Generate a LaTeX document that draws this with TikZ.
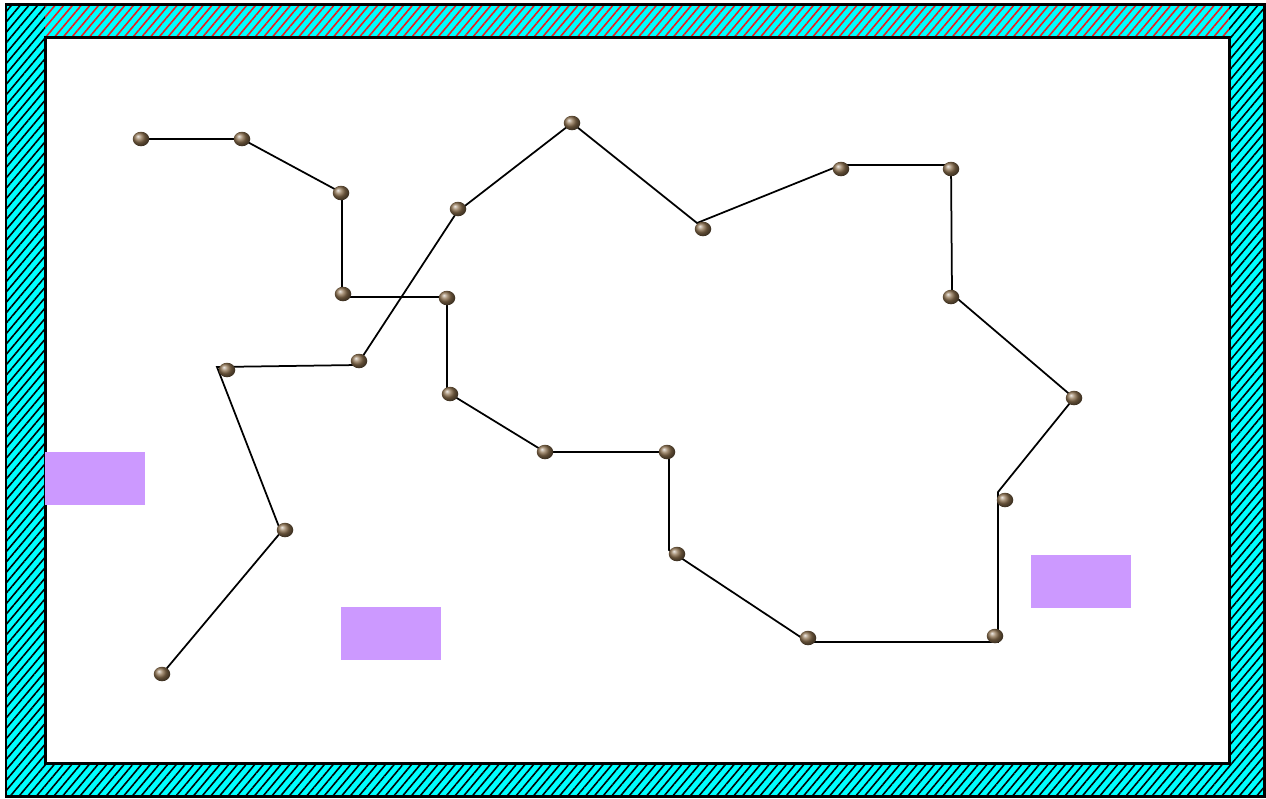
\documentclass[tikz,border=0pt]{standalone}
\usepackage{xcolor}
\usepackage{tikz}
\usetikzlibrary{shapes.geometric, patterns.meta}
\definecolor{wallcyan}{RGB}{0, 255, 255}
\definecolor{zonepurple}{RGB}{204, 153, 255}
\definecolor{ballbrown}{RGB}{140, 112, 78}
\definecolor{hatchred}{RGB}{235, 30, 30}
\tikzset{
    ball/.style={ellipse, minimum width=0.33cm, minimum height=0.29cm,
                 inner sep=0pt, ball color=ballbrown},
    link/.style={line width=0.035cm, black},
    zone/.style={fill=zonepurple},
    frame/.style={line width=0.06cm, black},
    hatchblack/.style={pattern={Lines[angle=50, distance=3.8pt, line width=0.9pt]},
                       pattern color=black},
    hatchtop/.style={pattern={Lines[angle=50, distance=3.8pt, line width=0.9pt]},
                     pattern color=hatchred},
}
\begin{document}
\begin{tikzpicture}[x=0.02cm, y=-0.02cm]
    \useasboundingbox (0,0) rectangle (1266,798);

    % wall
    \fill[wallcyan] (6,4) rectangle (1264,796);
    \fill[hatchblack] (6,4) rectangle (45,796);
    \fill[hatchblack] (1229,4) rectangle (1264,796);
    \fill[hatchblack] (45,763) rectangle (1229,796);
    \fill[hatchtop] (45,4) rectangle (1229,37);
    \draw[frame] (6,4) rectangle (1264,796);
    \draw[frame, fill=white] (45,37) rectangle (1229,763);

    % obstacles
    \fill[zone] (45,452) rectangle (145,505);
    \fill[zone] (341,607) rectangle (441,660);
    \fill[zone] (1031,555) rectangle (1131,608);

    % path vertices
    \coordinate (v1) at (141,139);
    \coordinate (v2) at (242,139);
    \coordinate (v3) at (342,193);
    \coordinate (v4) at (342,297);
    \coordinate (v5) at (447,297);
    \coordinate (v6) at (447,392);
    \coordinate (v7) at (545,452);
    \coordinate (v8) at (669,452);
    \coordinate (v9) at (669,550);
    \coordinate (v10) at (808,642);
    \coordinate (v11) at (998,642);
    \coordinate (v12) at (998,492);
    \coordinate (v13) at (1074,398);
    \coordinate (v14) at (952,294);
    \coordinate (v15) at (951,165);
    \coordinate (v16) at (841,165);
    \coordinate (v17) at (697,223);
    \coordinate (v18) at (572,123);
    \coordinate (v19) at (457,212);
    \coordinate (v20) at (357,365);
    \coordinate (v21) at (217,367);
    \coordinate (v22) at (281,532);
    \coordinate (v23) at (162,674);

    \draw[link] (v1) -- (v2) -- (v3) -- (v4) -- (v5) -- (v6) -- (v7) -- (v8)
        -- (v9) -- (v10) -- (v11) -- (v12) -- (v13) -- (v14) -- (v15) -- (v16)
        -- (v17) -- (v18) -- (v19) -- (v20) -- (v21) -- (v22) -- (v23);

    % balls
    \node[ball] (b1) at (141,139) {};
    \node[ball] (b2) at (242,139) {};
    \node[ball] (b3) at (341,193) {};
    \node[ball] (b4) at (343,294) {};
    \node[ball] (b5) at (447,298) {};
    \node[ball] (b6) at (450,394) {};
    \node[ball] (b7) at (545,452) {};
    \node[ball] (b8) at (667,452) {};
    \node[ball] (b9) at (677,554) {};
    \node[ball] (b10) at (808,638) {};
    \node[ball] (b11) at (995,636) {};
    \node[ball] (b12) at (1005,500) {};
    \node[ball] (b13) at (1074,398) {};
    \node[ball] (b14) at (951,297) {};
    \node[ball] (b15) at (951,169) {};
    \node[ball] (b16) at (841,169) {};
    \node[ball] (b17) at (703,229) {};
    \node[ball] (b18) at (572,123) {};
    \node[ball] (b19) at (458,209) {};
    \node[ball] (b20) at (359,361) {};
    \node[ball] (b21) at (227,370) {};
    \node[ball] (b22) at (285,530) {};
    \node[ball] (b23) at (162,674) {};
\end{tikzpicture}
\end{document}
